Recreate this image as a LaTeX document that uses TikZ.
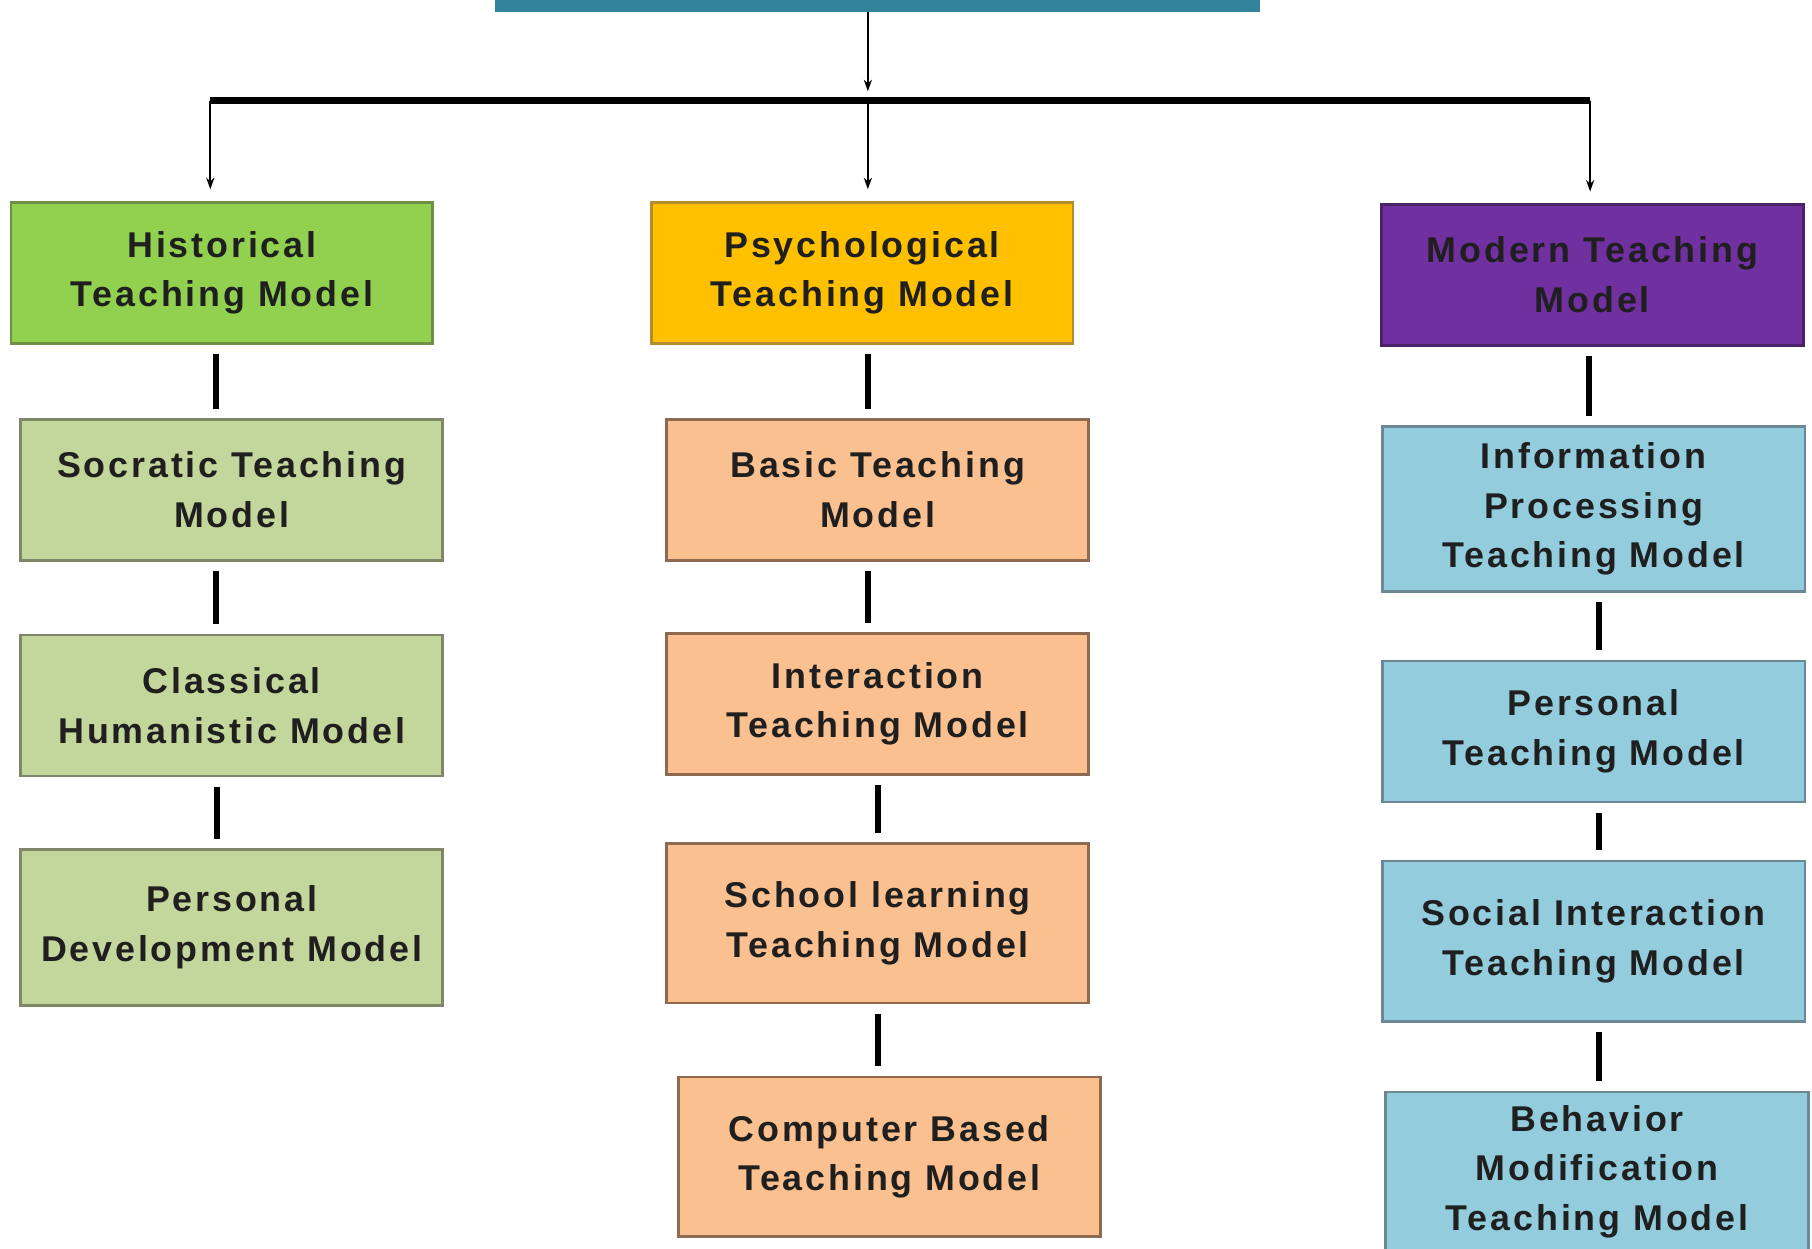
\documentclass[tikz,border=0pt]{standalone}
\usepackage{fontspec}
\newfontfamily\modelfont{Liberation Sans}[LetterSpace=8]
\usetikzlibrary{arrows.meta}

\definecolor{rootfill}{HTML}{31849B}
\definecolor{histfill}{HTML}{92D050}
\definecolor{histline}{HTML}{6F8F45}
\definecolor{oldfill}{HTML}{C3D69B}
\definecolor{oldline}{HTML}{7E8768}
\definecolor{psyfill}{HTML}{FFC000}
\definecolor{psyline}{HTML}{B38D2E}
\definecolor{peachfill}{HTML}{FAC090}
\definecolor{peachline}{HTML}{8E6A50}
\definecolor{modfill}{HTML}{7030A0}
\definecolor{modline}{HTML}{4A2268}
\definecolor{bluefill}{HTML}{93CDDD}
\definecolor{blueline}{HTML}{6B8894}

\tikzset{
  model/.style={draw, line width=1.2pt, align=center, inner sep=0pt,
    minimum width=182.5pt, minimum height=61pt, text=black!88,
    font={\modelfont\bfseries\fontsize{15.5}{21.5}\selectfont}},
  histbox/.style={model, fill=histfill, draw=histline},
  oldbox/.style={model, fill=oldfill, draw=oldline},
  psybox/.style={model, fill=psyfill, draw=psyline},
  peachbox/.style={model, fill=peachfill, draw=peachline},
  modbox/.style={model, fill=modfill, draw=modline},
  bluebox/.style={model, fill=bluefill, draw=blueline},
  link/.style={line width=2.6pt, shorten <=4pt, shorten >=4pt},
  feed/.style={line width=1pt, -{Stealth[length=5pt, width=3.5pt]}},
}

\begin{document}
\begin{tikzpicture}[x=0.5pt, y=-0.5pt]
  \useasboundingbox (0,0) rectangle (1568,1080);

  % top of the chart
  \node[fill=rootfill, minimum width=331pt, minimum height=25pt, inner sep=0pt] (root) at (759,-15){};
  \coordinate (forkM) at (751,87);
  \coordinate (forkL) at (182,87);
  \coordinate (forkR) at (1376,87);

  % historical column
  \node[histbox] (hist) at (192,236){Historical\\Teaching Model};
  \node[oldbox] (soc) at (200.5,424){Socratic Teaching\\Model};
  \node[oldbox] (class) at (200.5,610.5){Classical\\Humanistic Model};
  \node[oldbox, minimum height=67.5pt] (pdev) at (200.5,802.5){Personal\\Development Model};

  % psychological column
  \node[psybox] (psy) at (746,236){Psychological\\Teaching Model};
  \node[peachbox] (basic) at (759.5,424){Basic Teaching\\Model};
  \node[peachbox] (inter) at (759.5,609){Interaction\\Teaching Model};
  \node[peachbox, minimum height=69pt] (school) at (759.5,799){School learning\\Teaching Model};
  \node[peachbox, minimum height=69pt] (comp) at (769.5,1001){Computer Based\\Teaching Model};

  % modern column
  \node[modbox] (modern) at (1378,238){Modern Teaching\\Model};
  \node[bluebox, minimum width=183pt, minimum height=71.5pt] (info) at (1379,440.5){Information\\Processing\\Teaching Model};
  \node[bluebox, minimum width=183pt] (pers) at (1379,633){Personal\\Teaching Model};
  \node[bluebox, minimum width=183pt, minimum height=69.5pt] (social) at (1379,814.5){Social Interaction\\Teaching Model};
  \node[bluebox, minimum width=183pt, minimum height=69pt] (behav) at (1382,1014){Behavior\\Modification\\Teaching Model};

  % fork
  \draw[feed, shorten >=4pt] (root.south -| forkM) -- (forkM);
  \draw[line width=2.8pt] (forkL) -- (forkR);
  \draw[feed, shorten >=5pt] (forkL) -- (forkL |- hist.north);
  \draw[feed, shorten >=5pt] (forkM) -- (forkM |- psy.north);
  \draw[feed, shorten >=5pt] (forkR) -- (forkR |- modern.north);

  % links inside the columns
  \draw[link] ([xshift=-2.5pt]hist.south) -- ([xshift=-2.5pt]hist.south |- soc.north);
  \draw[link] ([xshift=-6.75pt]soc.south) -- ([xshift=-6.75pt]soc.south |- class.north);
  \draw[link] ([xshift=-6.25pt]class.south) -- ([xshift=-6.25pt]class.south |- pdev.north);
  \draw[link] ([xshift=2.5pt]psy.south) -- ([xshift=2.5pt]psy.south |- basic.north);
  \draw[link] ([xshift=-4.25pt]basic.south) -- ([xshift=-4.25pt]basic.south |- inter.north);
  \draw[link] (inter.south) -- (inter.south |- school.north);
  \draw[link] (school.south) -- (school.south |- comp.north);
  \draw[link] ([xshift=-1.5pt]modern.south) -- ([xshift=-1.5pt]modern.south |- info.north);
  \draw[link] ([xshift=2.5pt]info.south) -- ([xshift=2.5pt]info.south |- pers.north);
  \draw[link] ([xshift=2.5pt]pers.south) -- ([xshift=2.5pt]pers.south |- social.north);
  \draw[link] ([xshift=2.5pt]social.south) -- ([xshift=2.5pt]social.south |- behav.north);
\end{tikzpicture}
\end{document}
